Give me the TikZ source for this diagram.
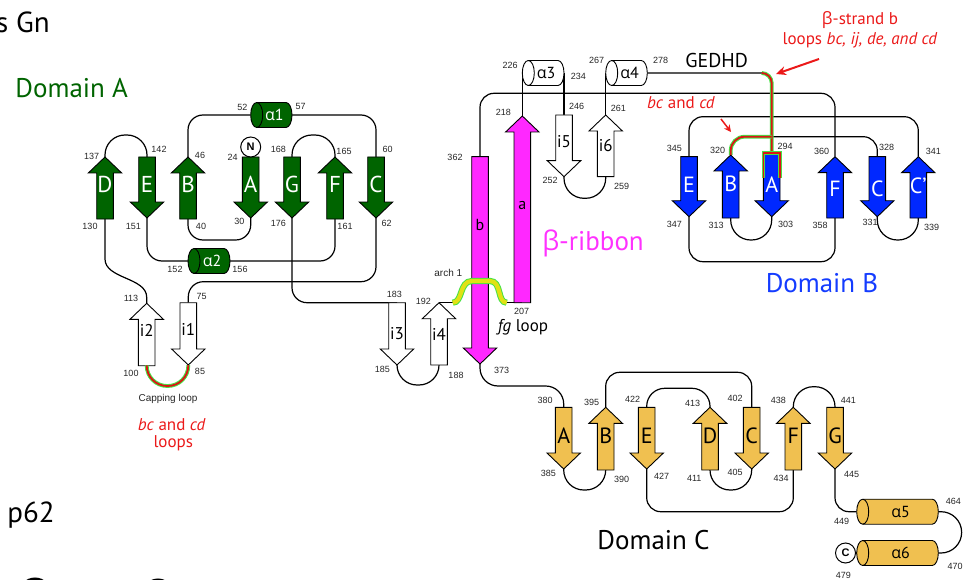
\documentclass[tikz,border=0pt]{standalone}
\usepackage{fontspec}
\setmainfont{PT Sans}
\newfontfamily\numf{Liberation Sans}
\newfontfamily\grk{Open Sans}
\usetikzlibrary{calc,arrows.meta,backgrounds}

\definecolor{dgreen}{RGB}{0,100,0}
\definecolor{sblue}{RGB}{0,40,255}
\definecolor{smag}{RGB}{255,40,255}
\definecolor{sgold}{RGB}{240,192,80}
\definecolor{hlred}{RGB}{220,20,20}
\definecolor{hlgreen}{RGB}{70,225,70}
\definecolor{archy}{RGB}{225,225,20}
\definecolor{txtred}{RGB}{235,25,25}
\definecolor{txtblue}{RGB}{20,60,255}
\definecolor{txtmag}{RGB}{255,50,255}

% strand geometry: half body width, half head width, head length
\def\sbw{8.3}\def\shw{16.7}\def\shl{16}
% helix end-cap radii
\def\crx{6}\def\cry{12.5}

% beta strand pointing up: name, x, tip y, tail y, fill, label, label y
\newcommand\strandUp[7]{%
  \filldraw[strandline, fill=#5] (#2-\sbw,#4) -- (#2-\sbw,#3+\shl) -- (#2-\shw,#3+\shl) -- (#2,#3)
    -- (#2+\shw,#3+\shl) -- (#2+\sbw,#3+\shl) -- (#2+\sbw,#4) -- cycle;
  \coordinate (#1-t) at (#2,#3);
  \coordinate (#1-b) at (#2,#4);
  \node[strandlbl] (#1) at (#2,#7) {#6};}

% beta strand pointing down: name, x, top y, tip y, fill, label, label y
\newcommand\strandDn[7]{%
  \filldraw[strandline, fill=#5] (#2-\sbw,#3) -- (#2+\sbw,#3) -- (#2+\sbw,#4-\shl) -- (#2+\shw,#4-\shl)
    -- (#2,#4) -- (#2-\shw,#4-\shl) -- (#2-\sbw,#4-\shl) -- cycle;
  \coordinate (#1-t) at (#2,#3);
  \coordinate (#1-b) at (#2,#4);
  \node[strandlbl] (#1) at (#2,#7) {#6};}

% alpha helix cylinder: name, left x, right x, centre y, fill, text colour, number
\newcommand\helix[7]{%
  \filldraw[strandline, fill=#5] (#2+\crx,#4-\cry) -- (#3-\crx,#4-\cry)
    arc[start angle=-90,end angle=90,x radius=\crx,y radius=\cry]
    -- (#2+\crx,#4+\cry)
    arc[start angle=90,end angle=270,x radius=\crx,y radius=\cry] -- cycle;
  \draw[strandline] (#2+\crx,#4-\cry) arc[start angle=-90,end angle=90,x radius=\crx,y radius=\cry];
  \coordinate (#1-l) at (#2,#4);
  \coordinate (#1-r) at (#3,#4);
  \node[inner sep=0, text=#6, font=\fontsize{16}{16}\selectfont] (#1) at ({(#2+#3)/2+3},#4) {{\grk α}#7};}

\begin{document}
\begin{tikzpicture}[x=1pt,y=-1pt,
  conn/.style={line width=1.2pt, draw=black},
  strandline/.style={line width=0.9pt, draw=black},
  strandlbl/.style={inner sep=0},
  num/.style={font=\numf\fontsize{9}{9}\selectfont, text=black!85, inner sep=0},
  small/.style={font=\numf\fontsize{10}{10}\selectfont, text=black!85, inner sep=0},
  dom/.style={font=\fontsize{27}{27}\selectfont, inner sep=0},
  redtxt/.style={font=\fontsize{17}{17}\selectfont, text=txtred, inner sep=0},
  hl/.style={line width=1.8pt, draw=hlred, preaction={draw=hlgreen, line width=3.8pt}},
  term/.style={circle, draw=black, line width=1pt, fill=white, minimum size=20pt, inner sep=0,
    font=\numf\bfseries\fontsize{11}{11}\selectfont}]
\useasboundingbox (0,0) rectangle (968,580);

% ---------- Domain A ----------
\begin{scope}[strandlbl/.style={inner sep=0, text=white, font=\fontsize{23}{23}\selectfont}]
\strandUp{dAD}{105}{157}{219}{dgreen}{D}{184}
\strandDn{dAE}{147}{157}{218}{dgreen}{E}{184}
\strandUp{dAB}{188}{157}{219}{dgreen}{B}{184}
\strandDn{dAA}{250.7}{157}{218}{dgreen}{A}{184}
\strandDn{dAG}{292}{157}{218}{dgreen}{G}{184}
\strandUp{dAF}{335}{157}{219}{dgreen}{F}{184}
\strandDn{dAC}{376}{157}{218}{dgreen}{C}{184}
\end{scope}
\helix{a1}{250.7}{292}{115}{dgreen}{white}{1}
\helix{a2}{188}{230}{261}{dgreen}{white}{2}
\node[term] (nterm) at (250.7,147) {N};

% ---------- inserts and beta-ribbon ----------
\begin{scope}[strandlbl/.style={inner sep=0, text=black, font=\fontsize{17}{17}\selectfont}]
\strandUp{i2}{146.7}{303.3}{365.7}{white}{i2}{330}
\strandDn{i1}{188.3}{302.7}{365}{white}{i1}{329}
\strandDn{i3}{397}{302.7}{365}{white}{i3}{334}
\strandUp{i4}{439}{302.7}{365}{white}{i4}{334}
\strandDn{i5}{564}{115}{176.7}{white}{i5}{142}
\strandUp{i6}{605.7}{115}{176.7}{white}{i6}{146}
\end{scope}
\begin{scope}[strandlbl/.style={inner sep=0, text=black, font=\fontsize{16}{16}\selectfont}]
\strandDn{rb}{480}{156.7}{364}{smag}{b}{225}
\strandUp{ra}{522.3}{116}{302.7}{smag}{a}{205}
\end{scope}
\helix{a3}{522.3}{564}{73}{white}{black}{3}
\helix{a4}{605.7}{647.3}{73}{white}{black}{4}
\coordinate (arch-l) at (452.7,302.7);
\coordinate (arch-r) at (506.7,302.7);

% ---------- Domain B ----------
\begin{scope}[strandlbl/.style={inner sep=0, text=white, font=\fontsize{22}{22}\selectfont}]
\strandDn{dBE}{689}{156.7}{216.7}{sblue}{E}{185}
\strandUp{dBB}{730.7}{155}{218}{sblue}{B}{184}
\strandDn{dBA}{771.7}{153}{216.7}{sblue}{A}{185}
\strandUp{dBF}{835}{156.7}{218}{sblue}{F}{189}
\strandDn{dBC}{877.3}{156.7}{216.7}{sblue}{C}{189}
\strandUp{dBCp}{918.3}{156.7}{218}{sblue}{C’}{186}
\end{scope}

% ---------- Domain C ----------
\begin{scope}[strandlbl/.style={inner sep=0, text=black, font=\fontsize{22}{22}\selectfont}]
\strandDn{dCA}{563.7}{407.3}{469}{sgold}{A}{436}
\strandUp{dCB}{605.7}{407.3}{470}{sgold}{B}{436}
\strandDn{dCE}{646.7}{407.3}{469}{sgold}{E}{436}
\strandUp{dCD}{710}{407.3}{470}{sgold}{D}{436}
\strandDn{dCC}{751.7}{407.3}{469}{sgold}{C}{436}
\strandUp{dCF}{793.3}{407.3}{470}{sgold}{F}{436}
\strandDn{dCG}{835}{407.3}{469}{sgold}{G}{436}
\end{scope}
\helix{a5}{856.7}{938.3}{511.7}{sgold}{black}{5}
\helix{a6}{856.7}{938.3}{553}{sgold}{black}{6}
\node[term] (cterm) at (845.5,553) {C};

% ---------- chain connections (behind the elements) ----------
\begin{scope}[on background layer]
\draw[conn] (nterm) -- (dAA-t);
\draw[conn, rounded corners=15] (dAA-b) -- ++(0,22) -| (dAB-b);
\draw[conn, rounded corners=15] (dAB-t) |- (a1-l);
\draw[conn, rounded corners=15] (a1-r) -| (dAC-t);
\draw[conn, rounded corners=15] (dAC-b) -- ++(0,63.7) -| (i1-t);
\draw[conn] (dAD-b) -- ++(0,40) .. controls +(0,20) and +(0,-20) .. ($(i2-t)+(0,-6)$) -- (i2-t);
\draw[conn, rounded corners=20] (dAD-t) -- ++(0,-22) -| (dAE-t);
\draw[conn, rounded corners=15] (dAE-b) |- (a2-l);
\draw[conn, rounded corners=15] (a2-r) -| (dAF-b);
\draw[conn, rounded corners=20] (dAF-t) -- ++(0,-22) -| (dAG-t);
\draw[conn, rounded corners=15] (dAG-b) |- (i3-t);
\draw[conn, rounded corners=20] (i3-b) -- ++(0,20) -| (i4-b);
\draw[conn] (i4-t) -- (arch-l);
\draw[conn] (arch-r) -- (ra-b);
\draw[conn] (ra-t) -- (a3-l);
\draw[conn] (a3-r) -- (i5-t);
\draw[conn, rounded corners=20] (i5-b) -- ++(0,21.6) -| (i6-b);
\draw[conn] (i6-t) -- (a4-l);
\draw[conn, rounded corners=10] (a4-r) -| (dBA-t);
\draw[conn, rounded corners=20] (dBA-b) -- ++(0,23.3) -| (dBB-b);
\draw[conn, rounded corners=14] (dBB-t) -- ++(0,-18.3) -| (dBC-t);
\draw[conn, rounded corners=20] (dBC-b) -- ++(0,23.3) -| (dBCp-b);
\draw[conn, rounded corners=14] (dBCp-t) -- ++(0,-40) -| (dBE-t);
\draw[conn, rounded corners=14] (dBE-b) -- ++(0,45) -| (dBF-b);
\draw[conn, rounded corners=14] (dBF-t) -- ++(0,-63.4) -| (rb-t);
\draw[conn, rounded corners=18] (rb-b) -- ++(0,22) -| (dCA-t);
\draw[conn, rounded corners=20] (dCA-b) -- ++(0,21) -| (dCB-b);
\draw[conn, rounded corners=14] (dCB-t) -- ++(0,-35) -| (dCC-t);
\draw[conn, rounded corners=20] (dCC-b) -- ++(0,21) -| (dCD-b);
\draw[conn, rounded corners=18] (dCD-t) -- ++(0,-19) -| (dCE-t);
\draw[conn, rounded corners=14] (dCE-b) -- ++(0,42.7) -| (dCF-b);
\draw[conn, rounded corners=20] (dCF-t) -- ++(0,-20.6) -| (dCG-t);
\draw[conn, rounded corners=14] (dCG-b) |- (a5-l);
\draw[conn] (a5-r) -- ++(2.7,0) arc[start angle=-90,end angle=90,radius=20.65] -- (a6-r);
\draw[conn] (cterm) -- (a6-l);
\end{scope}

% ---------- highlighted loops ----------
\draw[hl, rounded corners=20.5] (i1-b) -- ++(0,21) -| (i2-b);
\draw[hl, rounded corners=10] ($(dBA-t |- a4-r)+(-10,0)$) -| (dBA-t);
\draw[hl, rounded corners=14] (dBB-t) |- ($(dBA-t)+(0,-16.3)$);
\draw[hl] ($(dBA-t)+(-8.3,25)$) -- ($(dBA-t)+(-8.3,0)$) -- ($(dBA-t)+(8.3,0)$) -- ($(dBA-t)+(8.3,25)$);
\draw[line width=4.2pt, draw=archy, preaction={draw=hlgreen, line width=6.2pt}]
  (arch-l) .. controls (463,302.7) and (459,281) .. (472,281) -- (490,281)
  .. controls (502,281) and (497,302.7) .. (arch-r);

% ---------- pointers ----------
\coordinate (bigarr-s) at (819,59);
\coordinate (bigarr-e) at (776,74);
\coordinate (smarr-s) at (721,119);
\coordinate (smarr-e) at (731,132);
\draw[-{Stealth[length=10pt,width=9pt]}, line width=2pt, txtred] (bigarr-s) -- (bigarr-e);
\draw[-{Stealth[length=7pt,width=7pt]}, line width=1.5pt, txtred] (smarr-s) -- (smarr-e);

% ---------- residue numbers ----------
\foreach \t/\px/\py in {137/91.7/156, 142/159/149, 46/200/155, 24/232.7/157.3, 168/278.3/149,
  165/344/151.7, 60/387.7/149, 52/242.3/107.3, 57/300.7/106.7, 130/90/226.7, 151/133.3/226,
  40/201/226.7, 30/239.3/221, 176/278.3/223.3, 161/345/226.7, 62/386.7/223.3, 152/175/269.3,
  156/240/269.3, 113/131/298.3, 75/201.7/296, 100/131/373.3, 85/200/371, 183/394.3/294,
  185/382.3/369, 192/423.3/301.7, 188/456/375, 207/521.7/311, 373/501.7/370.7, 362/455/157.3,
  218/503.3/112.7, 226/510/65, 234/578.3/76.7, 246/576.7/106.7, 261/618.3/108.3, 252/550/180,
  259/621.7/186.7, 267/596.7/60, 278/660.7/60, 345/674.3/148.3, 320/717.7/150, 294/785/146.7,
  360/821.7/151.7, 328/886.7/147.7, 341/933.3/151.7, 347/674.3/224.3, 313/716/225,
  303/785.7/224.3, 358/820/225, 331/870/222.7, 339/931.7/227.3, 380/545/400, 385/548.3/473.3,
  390/621.7/479.3, 395/591.7/402.3, 422/632.7/399.3, 427/661.7/476, 413/692.7/403.3,
  411/694.3/478.3, 405/735/472.7, 402/735/398.3, 434/781/478.3, 438/778.3/400.7,
  441/848.3/400, 445/851.7/474.3, 449/841.7/521, 464/953.3/501.7, 470/955/566, 479/843.3/575}
  \node[num] (n\t) at (\px,\py) {\t};

% ---------- captions ----------
\node[font=\fontsize{29}{29}\selectfont, anchor=east, inner sep=0] (title) at (50,22) {s Gn};
\node[font=\fontsize{29}{29}\selectfont, inner sep=0] (p62) at (31,515) {p62};
\node[dom, text=dgreen] (domA) at (71.7,88.3) {Domain A};
\node[dom, text=txtblue] (domB) at (822,283) {Domain B};
\node[dom, text=black] (domC) at (653.5,540) {Domain C};
\node[dom, text=txtmag] (ribbon) at (593,243) {{\grk β}-ribbon};
\node[font=\fontsize{17}{17}\selectfont, inner sep=0] (fgloop) at (523,327) {\textit{fg} loop};
\node[font=\fontsize{20}{20}\selectfont, inner sep=0] (gedhd) at (716.7,60.7) {GEDHD};
\node[redtxt] (bstrand) at (860,20) {{\grk β}-strand b};
\node[redtxt] (loopsB) at (860,40) {loops \textit{bc, ij, de, and cd}};
\node[redtxt] (bcdB) at (681,103) {\textit{bc} and \textit{cd}};
\node[redtxt] (bcdA) at (171.7,425) {\textit{bc} and \textit{cd}};
\node[redtxt] (loopsA) at (173.3,443.3) {loops};
\node[small] (capping) at (168,399) {Capping loop};
\node[small] (arch1) at (448.3,273.3) {arch 1};

% partly visible glyph tops along the lower edge
\draw[line width=3pt] (35,594) circle[radius=15];
\draw[line width=3pt] (158,594) circle[radius=14];
\end{tikzpicture}
\end{document}
